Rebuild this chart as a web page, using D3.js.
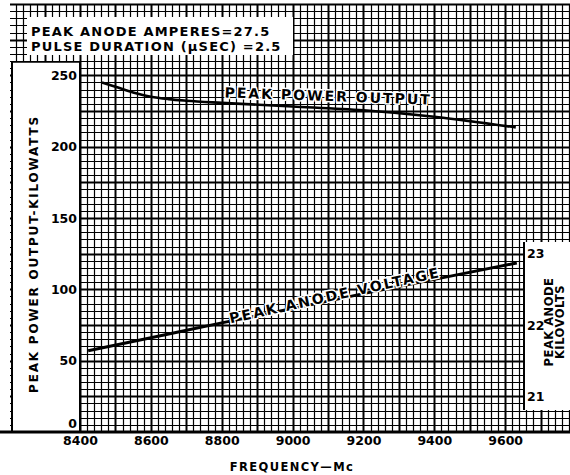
<!DOCTYPE html>
<html>
<head>
<meta charset="utf-8">
<script src="https://cdn.jsdelivr.net/npm/d3@7"></script>
<style>
  html, body { margin: 0; padding: 0; background: #fff; }
  svg { display: block; }
  text { font-family: "DejaVu Sans", "Liberation Sans", sans-serif; font-weight: bold; fill: #000; }
</style>
</head>
<body>
<svg id="chart" width="570" height="475"></svg>
<script>
// ---- data ----
const freqTicks = [8400, 8600, 8800, 9000, 9200, 9400, 9600];
const powerTicks = [0, 50, 100, 150, 200, 250];
const kvTicks = [21, 22, 23];

const powerFreq = [8462, 8500, 8550, 8600, 8650, 8700, 8800, 9000, 9200, 9400, 9630];
const powerKW   = [245, 242, 238, 235, 233.3, 232.2, 230.7, 228.2, 225.5, 221, 213.5];

const voltFreq = [8423, 8600, 8800, 9000, 9200, 9400, 9633];
const voltKV   = [21.64, 21.82, 22.03, 22.23, 22.44, 22.64, 22.87];

const noteLines = ["PEAK ANODE  AMPERES=27.5", "PULSE DURATION (\u03BCSEC) =2.5"];
const xTitle = "FREQUENCY\u2014Mc";
const yTitle = "PEAK POWER OUTPUT-KILOWATTS";
const y2Title = ["PEAK ANODE", "KILOVOLTS"];
const powerLabel = "PEAK POWER OUTPUT";
const voltLabel = "PEAK ANODE VOLTAGE";

// ---- scales ----
const svg = d3.select("#chart");
const x = d3.scaleLinear().domain([8400, 9800]).range([80, 576]);
const y = d3.scaleLinear().domain([0, 300]).range([432, 4]);
const yKV = d3.scaleLinear().domain([20.5, 26.5]).range([432, 4]);

const gridLeft = 10, gridRight = 570, gridTop = 4, gridBottom = 432;

// ---- graph paper ----
const grid = svg.append("g");
const vlines = d3.range(8200, 9801, 20).filter(v => x(v) >= gridLeft - 0.5 && x(v) <= gridRight);
grid.selectAll("line.v").data(vlines).join("line")
  .attr("x1", d => Math.round(x(d)) + 0.5).attr("x2", d => Math.round(x(d)) + 0.5)
  .attr("y1", gridTop).attr("y2", gridBottom)
  .attr("stroke", "#000")
  .attr("stroke-width", d => (d % 100 === 0) ? 2 : 1.2);
const hlines = d3.range(0, 301, 5);
grid.selectAll("line.h").data(hlines).join("line")
  .attr("y1", d => Math.round(y(d)) + 0.5).attr("y2", d => Math.round(y(d)) + 0.5)
  .attr("x1", gridLeft).attr("x2", gridRight)
  .attr("stroke", "#000")
  .attr("stroke-width", d => (d % 25 === 0) ? 2 : 1.2);

// ---- white panels ----
svg.append("rect").attr("x", 27).attr("y", 17).attr("width", 266).attr("height", 38).attr("fill", "#fff");
svg.append("rect").attr("x", 12).attr("y", 62).attr("width", 68).attr("height", 370).attr("fill", "#fff");
svg.append("line").attr("x1", 12).attr("x2", 12).attr("y1", 62).attr("y2", 432).attr("stroke", "#000").attr("stroke-width", 2);
svg.append("line").attr("x1", 11).attr("x2", 81).attr("y1", 62).attr("y2", 62).attr("stroke", "#000").attr("stroke-width", 1.5);
svg.append("rect").attr("x", 524).attr("y", 242).attr("width", 46).attr("height", 168).attr("fill", "#fff");
svg.append("line").attr("x1", 524).attr("x2", 524).attr("y1", 242).attr("y2", 410).attr("stroke", "#000").attr("stroke-width", 2);
svg.append("line").attr("x1", 80).attr("x2", 80).attr("y1", 62).attr("y2", 432).attr("stroke", "#000").attr("stroke-width", 2);
svg.append("rect").attr("x", 0).attr("y", 433).attr("width", 570).attr("height", 42).attr("fill", "#fff");
svg.append("line").attr("x1", 0).attr("x2", 570).attr("y1", 432).attr("y2", 432).attr("stroke", "#000").attr("stroke-width", 3);

// ---- note text ----
svg.append("g").selectAll("text").data(noteLines).join("text")
  .attr("x", 31).attr("y", (d, i) => 36 + i * 15)
  .attr("font-size", 13).attr("letter-spacing", 1.2)
  .text(d => d);

// ---- axes ----
const xAxis = svg.append("g").attr("transform", `translate(0,${gridBottom})`)
  .call(d3.axisBottom(x).tickValues(freqTicks).tickSize(0).tickPadding(4).tickFormat(d3.format("d")));
xAxis.select(".domain").remove();
xAxis.selectAll("text").attr("font-size", 12.5).attr("font-family", "DejaVu Sans").attr("font-weight", "bold");

const yAxis = svg.append("g").attr("transform", "translate(80,0)")
  .call(d3.axisLeft(y).tickValues(powerTicks).tickSize(0).tickPadding(3).tickFormat(d3.format("d")));
yAxis.select(".domain").remove();
yAxis.selectAll("text").attr("font-size", 12.5).attr("font-family", "DejaVu Sans").attr("font-weight", "bold");
yAxis.selectAll(".tick").filter(d => d === 0).select("text").attr("dy", "-0.35em");

const y2Axis = svg.append("g").attr("transform", "translate(524,0)")
  .call(d3.axisRight(yKV).tickValues(kvTicks).tickSize(0).tickPadding(3).tickFormat(d3.format("d")));
y2Axis.select(".domain").remove();
y2Axis.selectAll("text").attr("font-size", 12.5).attr("font-family", "DejaVu Sans").attr("font-weight", "bold");

// ---- titles ----
svg.append("text").attr("x", 292).attr("y", 471).attr("text-anchor", "middle")
  .attr("font-size", 11.5).attr("letter-spacing", 1.4).text(xTitle);
svg.append("text").attr("transform", "translate(38,254) rotate(-90)").attr("text-anchor", "middle")
  .attr("font-size", 12).attr("letter-spacing", 1.8).text(yTitle);
svg.append("g").selectAll("text").data(y2Title).join("text")
  .attr("transform", (d, i) => `translate(${553 + i * 11},322) rotate(-90)`)
  .attr("text-anchor", "middle").attr("font-size", 11.5).attr("letter-spacing", 0.5).text(d => d);

// ---- curves ----
const powerData = powerFreq.map((f, i) => [f, powerKW[i]]);
const voltData = voltFreq.map((f, i) => [f, voltKV[i]]);
svg.append("path").datum(powerData)
  .attr("d", d3.line().x(d => x(d[0])).y(d => y(d[1])).curve(d3.curveMonotoneX))
  .attr("fill", "none").attr("stroke", "#000").attr("stroke-width", 2.6);
svg.append("path").datum(voltData)
  .attr("d", d3.line().x(d => x(d[0])).y(d => yKV(d[1])).curve(d3.curveMonotoneX))
  .attr("fill", "none").attr("stroke", "#000").attr("stroke-width", 3);

// ---- curve labels ----
svg.append("text").attr("transform", "translate(328,101) rotate(2)").attr("text-anchor", "middle")
  .attr("font-size", 14).attr("letter-spacing", 2)
  .attr("stroke", "#fff").attr("stroke-width", 3).attr("paint-order", "stroke")
  .text(powerLabel);
svg.append("text").attr("transform", "translate(336,300) rotate(-12.5)").attr("text-anchor", "middle")
  .attr("font-size", 14).attr("letter-spacing", 2.2)
  .attr("stroke", "#fff").attr("stroke-width", 3).attr("paint-order", "stroke")
  .text(voltLabel);
</script>
</body>
</html>
